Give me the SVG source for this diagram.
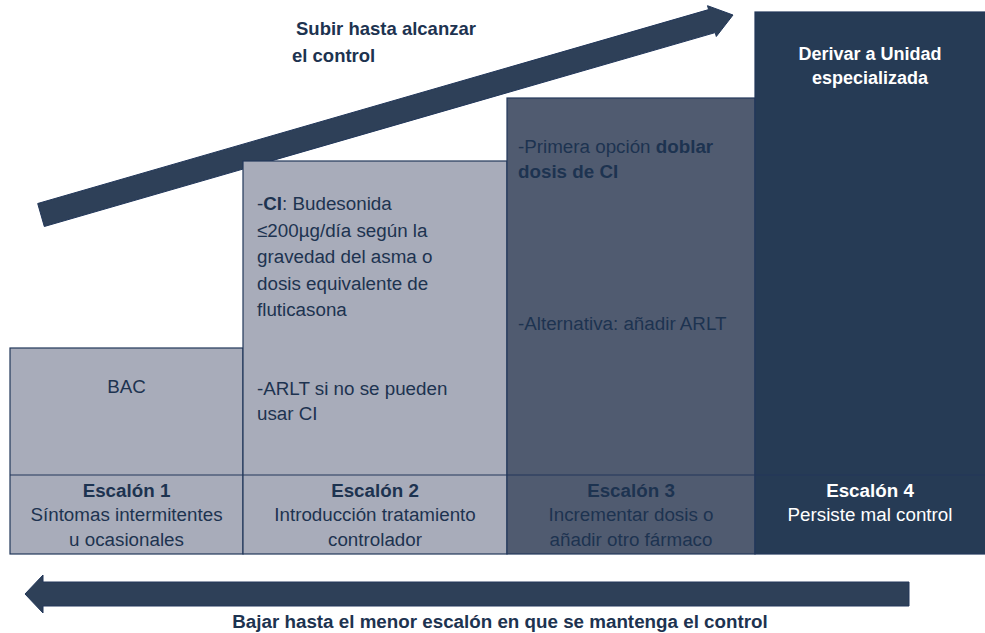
<svg xmlns="http://www.w3.org/2000/svg" width="985" height="633" viewBox="0 0 985 633">
<style>
.t{font-family:"Liberation Sans",Arial,sans-serif;font-size:18.8px;fill:#1d3350}
.b{font-weight:bold}
.c{text-anchor:middle}
.w{fill:#ffffff}
.box{stroke:#22375a;stroke-width:1.2}
.light{fill:#a8acba}
.mid{fill:#505b70}
.dark{fill:#263b55}
.arrow{fill:#2e4058;stroke:#22375a;stroke-width:1}
</style>
<rect width="985" height="633" fill="#ffffff"/>
<g id="connectors">
<polygon id="arrow-up" class="arrow" points="37.7,203.5 708.6,9.6 707.5,5.7 733,15 716.3,36.5 715.2,32.6 44.3,226.5"/>
<polygon id="arrow-down" class="arrow" points="25,594 43,575 43,582 909,582 909,606 43,606 43,613"/>
</g>
<g id="label-up">
<text class="t b" x="296" y="35" style="font-size:18.5px">Subir hasta alcanzar</text>
<text class="t b" x="292" y="62" style="font-size:18.5px">el control</text>
</g>
<g id="label-down">
<text class="t b c" x="500" y="628" style="font-size:18.8px">Bajar hasta el menor escalón en que se mantenga el control</text>
</g>
<g id="step1">
<rect class="box light" x="10" y="348" width="233" height="206"/>
<line class="box" x1="10" y1="475" x2="243" y2="475"/>
<text class="t c" x="126.5" y="393">BAC</text>
<text class="t b c" x="126.5" y="497">Escalón 1</text>
<text class="t c" x="126.5" y="521">Síntomas intermitentes</text>
<text class="t c" x="126.5" y="546">u ocasionales</text>
</g>
<g id="step2">
<rect class="box light" x="243" y="161" width="264" height="393"/>
<line class="box" x1="243" y1="475" x2="507" y2="475"/>
<text class="t" x="257" y="210">-<tspan class="b">CI</tspan>: Budesonida</text>
<text class="t" x="257" y="237">≤200µg/día según la</text>
<text class="t" x="257" y="263">gravedad del asma o</text>
<text class="t" x="257" y="290">dosis equivalente de</text>
<text class="t" x="257" y="316">fluticasona</text>
<text class="t" x="257" y="395">-ARLT si no se pueden</text>
<text class="t" x="257" y="420">usar CI</text>
<text class="t b c" x="375" y="497">Escalón 2</text>
<text class="t c" x="375" y="521">Introducción tratamiento</text>
<text class="t c" x="375" y="546">controlador</text>
</g>
<g id="step3">
<rect class="box mid" x="507" y="98" width="248" height="456"/>
<line class="box" x1="507" y1="475" x2="755" y2="475"/>
<text class="t" x="518" y="153">-Primera opción <tspan class="b">doblar</tspan></text>
<text class="t b" x="518" y="178">dosis de CI</text>
<text class="t" x="518" y="330">-Alternativa: añadir ARLT</text>
<text class="t b c" x="631" y="497">Escalón 3</text>
<text class="t c" x="631" y="521">Incrementar dosis o</text>
<text class="t c" x="631" y="546">añadir otro fármaco</text>
</g>
<g id="step4">
<rect class="box dark" x="755" y="12" width="231" height="542"/>
<line class="box" x1="755" y1="475" x2="985" y2="475"/>
<text class="t b c w" x="870" y="60" style="font-size:18px">Derivar a Unidad</text>
<text class="t b c w" x="870" y="84" style="font-size:18px">especializada</text>
<text class="t b c w" x="870" y="497">Escalón 4</text>
<text class="t c w" x="870" y="521">Persiste mal control</text>
</g>
</svg>
